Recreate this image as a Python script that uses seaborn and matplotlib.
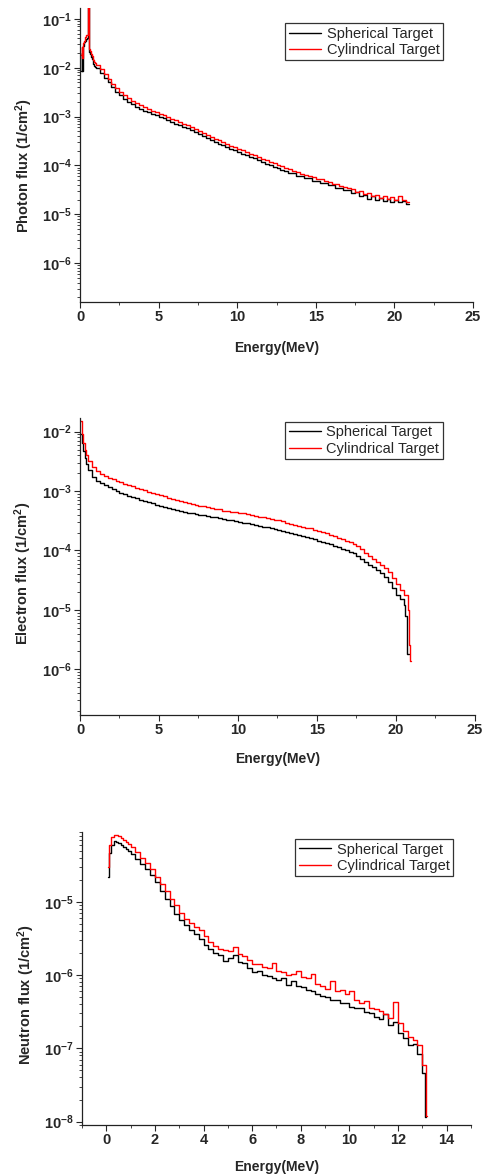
import numpy as np
import pandas as pd
import matplotlib
matplotlib.use("Agg")
import matplotlib.pyplot as plt
from matplotlib.ticker import LogLocator, FuncFormatter, MultipleLocator, NullFormatter
import seaborn as sns

sns.set_style("ticks")
plt.rcParams.update({
    "font.family": ["Liberation Sans", "DejaVu Sans"],
    "mathtext.fontset": "custom",
    "mathtext.rm": "Liberation Sans",
    "mathtext.bf": "Liberation Sans:bold",
    "mathtext.default": "bf",
    "axes.linewidth": 0.9,
    "axes.edgecolor": "#222222",
})

series_names = ["Spherical Target", "Cylindrical Target"]
series_colors = ["black", "red"]

# ---------------- photon spectrum (1/cm^2 per bin) ----------------
photon_fine_e = [0.05, 0.10, 0.15, 0.20, 0.25, 0.30, 0.35, 0.40, 0.45, 0.50,
                 0.55, 0.60, 0.65, 0.70, 0.75, 0.80, 0.85, 0.90, 0.95]
photon_sph_fine = [0.0085, 0.020, 0.0085, 0.028, 0.033, 0.035, 0.036, 0.038, 0.040, 0.25,
                   0.025, 0.021, 0.019, 0.0165, 0.0148, 0.0133, 0.0121, 0.0111, 0.0104]
photon_cyl_fine = [0.018, 0.026, 0.016, 0.032, 0.036, 0.042, 0.045, 0.047, 0.047, 0.30,
                   0.027, 0.024, 0.022, 0.0195, 0.0175, 0.0157, 0.0143, 0.0131, 0.0123]
photon_grid_e = np.round(np.arange(1.0, 20.8, 0.25), 2)  # 1.00 ... 20.75
photon_sph = [9.8e-3, 7.8e-3, 6.3e-3, 5.0e-3, 4.0e-3, 3.2e-3, 2.7e-3, 2.3e-3,
              2.0e-3, 1.78e-3, 1.6e-3, 1.45e-3, 1.33e-3, 1.22e-3, 1.13e-3, 1.07e-3,
              9.9e-4, 9.2e-4, 8.5e-4, 7.85e-4, 7.2e-4, 6.7e-4, 6.2e-4, 5.7e-4,
              5.25e-4, 4.8e-4, 4.4e-4, 4.0e-4, 3.65e-4, 3.3e-4, 3.05e-4, 2.8e-4,
              2.6e-4, 2.4e-4, 2.2e-4, 2.05e-4, 1.9e-4, 1.74e-4, 1.63e-4, 1.49e-4,
              1.39e-4, 1.28e-4, 1.2e-4, 1.09e-4, 1.03e-4, 9.3e-5, 9.0e-5, 8.1e-5,
              7.7e-5, 7.0e-5, 6.9e-5, 6.2e-5, 6.1e-5, 5.5e-5, 5.5e-5, 4.9e-5,
              4.9e-5, 4.4e-5, 4.4e-5, 3.9e-5, 3.9e-5, 3.5e-5, 3.5e-5, 3.1e-5,
              3.1e-5, 2.7e-5, 2.9e-5, 2.4e-5, 2.5e-5, 2.1e-5, 2.4e-5, 2.0e-5,
              2.2e-5, 1.9e-5, 2.1e-5, 1.8e-5, 2.0e-5, 1.75e-5, 1.85e-5, 1.6e-5]
photon_cyl = [1.16e-2, 9.2e-3, 7.4e-3, 5.9e-3, 4.7e-3, 3.8e-3, 3.2e-3, 2.7e-3,
              2.35e-3, 2.1e-3, 1.88e-3, 1.7e-3, 1.56e-3, 1.43e-3, 1.32e-3, 1.24e-3,
              1.15e-3, 1.07e-3, 9.9e-4, 9.1e-4, 8.4e-4, 7.8e-4, 7.2e-4, 6.6e-4,
              6.1e-4, 5.6e-4, 5.1e-4, 4.7e-4, 4.25e-4, 3.85e-4, 3.55e-4, 3.25e-4,
              3.0e-4, 2.8e-4, 2.55e-4, 2.4e-4, 2.2e-4, 2.05e-4, 1.88e-4, 1.75e-4,
              1.6e-4, 1.5e-4, 1.38e-4, 1.28e-4, 1.18e-4, 1.1e-4, 1.03e-4, 9.6e-5,
              8.7e-5, 8.4e-5, 7.7e-5, 7.4e-5, 6.8e-5, 6.5e-5, 6.0e-5, 5.8e-5,
              5.3e-5, 5.2e-5, 4.8e-5, 4.6e-5, 4.2e-5, 4.2e-5, 3.8e-5, 3.6e-5,
              3.4e-5, 3.3e-5, 2.9e-5, 3.0e-5, 2.6e-5, 2.7e-5, 2.4e-5, 2.5e-5,
              2.2e-5, 2.35e-5, 2.1e-5, 2.3e-5, 2.0e-5, 2.4e-5, 1.95e-5, 1.8e-5]
photon_end = 20.9

# ---------------- electron spectrum ----------------
electron_fine_e = [0.0, 0.1, 0.2, 0.3, 0.4, 0.5, 0.75]
electron_sph_fine = [0.0090, 0.0065, 0.0048, 0.0036, 0.0029, 0.0023, 0.00175]
electron_cyl_fine = [0.0150, 0.0090, 0.0065, 0.0050, 0.0040, 0.0032, 0.0025]
electron_grid_e = np.round(np.arange(1.0, 20.6, 0.25), 2)  # 1.00 ... 20.50
electron_sph = [1.50e-3, 1.36e-3, 1.24e-3, 1.15e-3, 1.07e-3, 1.00e-3, 9.4e-4, 8.9e-4,
                8.4e-4, 8.0e-4, 7.6e-4, 7.2e-4, 6.8e-4, 6.5e-4, 6.2e-4, 5.9e-4,
                5.7e-4, 5.4e-4, 5.2e-4, 5.0e-4, 4.8e-4, 4.6e-4, 4.5e-4, 4.3e-4,
                4.2e-4, 4.1e-4, 4.0e-4, 3.9e-4, 3.8e-4, 3.7e-4, 3.6e-4, 3.5e-4,
                3.4e-4, 3.3e-4, 3.2e-4, 3.1e-4, 3.0e-4, 2.9e-4, 2.85e-4, 2.8e-4,
                2.7e-4, 2.6e-4, 2.5e-4, 2.45e-4, 2.4e-4, 2.3e-4, 2.22e-4, 2.15e-4,
                2.05e-4, 1.98e-4, 1.9e-4, 1.8e-4, 1.73e-4, 1.66e-4, 1.6e-4, 1.53e-4,
                1.47e-4, 1.4e-4, 1.34e-4, 1.27e-4, 1.2e-4, 1.13e-4, 1.07e-4, 1.02e-4,
                9.6e-5, 8.9e-5, 8.0e-5, 7.1e-5, 6.4e-5, 5.8e-5, 5.2e-5, 4.7e-5,
                4.2e-5, 3.6e-5, 3.0e-5, 2.3e-5, 1.8e-5, 1.5e-5, 1.2e-5]
electron_cyl = [2.15e-3, 1.95e-3, 1.80e-3, 1.68e-3, 1.57e-3, 1.48e-3, 1.40e-3, 1.32e-3,
                1.26e-3, 1.20e-3, 1.14e-3, 1.08e-3, 1.03e-3, 9.8e-4, 9.3e-4, 8.9e-4,
                8.5e-4, 8.1e-4, 7.7e-4, 7.4e-4, 7.1e-4, 6.8e-4, 6.5e-4, 6.3e-4,
                6.1e-4, 5.9e-4, 5.7e-4, 5.5e-4, 5.3e-4, 5.2e-4, 5.0e-4, 4.9e-4,
                4.7e-4, 4.6e-4, 4.5e-4, 4.4e-4, 4.3e-4, 4.2e-4, 4.1e-4, 4.0e-4,
                3.8e-4, 3.7e-4, 3.6e-4, 3.5e-4, 3.4e-4, 3.3e-4, 3.2e-4, 3.1e-4,
                2.9e-4, 2.8e-4, 2.7e-4, 2.6e-4, 2.5e-4, 2.42e-4, 2.35e-4, 2.25e-4,
                2.15e-4, 2.05e-4, 1.95e-4, 1.85e-4, 1.75e-4, 1.65e-4, 1.55e-4, 1.47e-4,
                1.38e-4, 1.28e-4, 1.17e-4, 1.04e-4, 9.2e-5, 8.2e-5, 7.3e-5, 6.5e-5,
                5.8e-5, 5.1e-5, 4.3e-5, 3.5e-5, 2.7e-5, 2.2e-5, 1.8e-5]
electron_sph_tail_e = [20.6, 20.7]
electron_sph_tail = [8.0e-6, 1.8e-6]
electron_sph_end = 20.8
electron_cyl_tail_e = [20.75, 20.85, 20.92]
electron_cyl_tail = [1.0e-5, 2.6e-6, 1.4e-6]
electron_cyl_end = 20.97

# ---------------- neutron spectrum ----------------
neutron_fine_e = [0.06, 0.1, 0.2, 0.3, 0.4, 0.5, 0.6, 0.7, 0.8, 0.9]
neutron_sph_fine = [2.2e-5, 4.6e-5, 6.0e-5, 6.8e-5, 6.6e-5, 6.3e-5, 6.0e-5, 5.6e-5, 5.3e-5, 5.0e-5]
neutron_cyl_fine = [3.0e-5, 6.0e-5, 7.6e-5, 8.1e-5, 8.2e-5, 7.9e-5, 7.5e-5, 7.0e-5, 6.6e-5, 6.1e-5]
neutron_grid_e = np.round(np.arange(1.0, 12.9, 0.2), 2)  # 1.0 ... 12.8
neutron_sph = [4.5e-5, 3.9e-5, 3.3e-5, 2.8e-5, 2.3e-5, 1.85e-5, 1.4e-5, 1.1e-5,
               8.8e-6, 6.9e-6, 5.6e-6, 4.8e-6, 4.1e-6, 3.6e-6, 3.1e-6, 2.6e-6,
               2.3e-6, 2.0e-6, 1.85e-6, 1.55e-6, 1.7e-6, 1.9e-6, 1.5e-6, 1.45e-6,
               1.25e-6, 1.1e-6, 1.15e-6, 1.0e-6, 9.8e-7, 9.0e-7, 8.6e-7, 9.0e-7,
               7.4e-7, 8.2e-7, 7.0e-7, 6.8e-7, 6.3e-7, 6.1e-7, 5.6e-7, 5.2e-7,
               5.0e-7, 4.6e-7, 4.5e-7, 4.2e-7, 4.1e-7, 3.7e-7, 3.5e-7, 3.6e-7,
               3.1e-7, 3.0e-7, 2.7e-7, 2.5e-7, 2.9e-7, 2.1e-7, 2.3e-7, 1.6e-7,
               1.4e-7, 1.1e-7, 1.15e-7, 8.5e-8]
neutron_cyl = [5.6e-5, 4.8e-5, 4.0e-5, 3.4e-5, 2.8e-5, 2.2e-5, 1.75e-5, 1.4e-5,
               1.1e-5, 9.0e-6, 7.0e-6, 5.9e-6, 5.2e-6, 4.6e-6, 4.1e-6, 3.4e-6,
               2.8e-6, 2.5e-6, 2.3e-6, 2.2e-6, 2.1e-6, 2.4e-6, 1.95e-6, 1.8e-6,
               1.6e-6, 1.4e-6, 1.4e-6, 1.3e-6, 1.25e-6, 1.45e-6, 1.15e-6, 1.1e-6,
               1.0e-6, 1.05e-6, 1.15e-6, 9.5e-7, 9.0e-7, 1.05e-6, 7.5e-7, 7.2e-7,
               6.5e-7, 8.2e-7, 6.0e-7, 6.2e-7, 5.5e-7, 6.0e-7, 4.6e-7, 4.2e-7,
               4.4e-7, 3.6e-7, 3.4e-7, 3.2e-7, 2.9e-7, 2.6e-7, 4.3e-7, 2.2e-7,
               1.7e-7, 1.45e-7, 1.3e-7, 1.1e-7]
neutron_sph_tail_e = [13.0, 13.1]
neutron_sph_tail = [4.6e-8, 1.15e-8]
neutron_sph_end = 13.15
neutron_cyl_tail_e = [13.0, 13.15]
neutron_cyl_tail = [6.0e-8, 1.2e-8]
neutron_cyl_end = 13.2


def hist_frame(edges, values, end, name):
    # step histogram: left bin edges + closing edge
    x = list(edges) + [end]
    y = list(values) + [values[-1]]
    return pd.DataFrame({"Energy": x, "Flux": y, "Target": name})


def sci_label(v, pos):
    return r"$\mathbf{10^{%d}}$" % int(round(np.log10(v)))


def draw_panel(ax, df, ylim, xlim, xmajor, xminor, ylabel, leg_anchor, xlab_y, ylab_xy):
    sns.lineplot(data=df, x="Energy", y="Flux", hue="Target", hue_order=series_names,
                 palette=series_colors, drawstyle="steps-post", linewidth=1.0,
                 estimator=None, errorbar=None, ax=ax)
    ax.set_yscale("log")
    ax.set_ylim(*ylim)
    ax.set_xlim(*xlim)
    ax.xaxis.set_major_locator(MultipleLocator(xmajor))
    ax.xaxis.set_minor_locator(MultipleLocator(xminor))
    ax.yaxis.set_major_locator(LogLocator(base=10, numticks=20))
    ax.yaxis.set_minor_locator(LogLocator(base=10, subs=np.arange(2, 10), numticks=20))
    ax.yaxis.set_major_formatter(FuncFormatter(sci_label))
    ax.yaxis.set_minor_formatter(NullFormatter())
    ax.tick_params(which="major", direction="out", length=4, width=0.8, labelsize=10.5, pad=2)
    ax.tick_params(which="minor", direction="out", length=2, width=0.6)
    for lab in ax.get_xticklabels():
        lab.set_fontweight("bold")
    ax.set_xlabel("Energy(MeV)", fontsize=10, fontweight="bold")
    ax.set_ylabel(ylabel, fontsize=10.5, fontweight="bold")
    ax.xaxis.set_label_coords(0.5, xlab_y)
    ax.yaxis.set_label_coords(*ylab_xy)
    sns.despine(ax=ax)
    handles, labels = ax.get_legend_handles_labels()
    leg = ax.legend(handles, labels, loc="upper right", bbox_to_anchor=leg_anchor,
                    fontsize=10.5, frameon=True, fancybox=False, edgecolor="#333333",
                    framealpha=1, handlelength=2.2, handletextpad=0.4,
                    labelspacing=0.15, borderpad=0.25, borderaxespad=0)
    leg.get_frame().set_linewidth(0.9)


photon_df = pd.concat([
    hist_frame(photon_fine_e + list(photon_grid_e), photon_sph_fine + photon_sph, photon_end, series_names[0]),
    hist_frame(photon_fine_e + list(photon_grid_e), photon_cyl_fine + photon_cyl, photon_end, series_names[1]),
])
electron_df = pd.concat([
    hist_frame(electron_fine_e + list(electron_grid_e) + electron_sph_tail_e,
               electron_sph_fine + electron_sph + electron_sph_tail, electron_sph_end, series_names[0]),
    hist_frame(electron_fine_e + list(electron_grid_e) + electron_cyl_tail_e,
               electron_cyl_fine + electron_cyl + electron_cyl_tail, electron_cyl_end, series_names[1]),
])
neutron_df = pd.concat([
    hist_frame(neutron_fine_e + list(neutron_grid_e) + neutron_sph_tail_e,
               neutron_sph_fine + neutron_sph + neutron_sph_tail, neutron_sph_end, series_names[0]),
    hist_frame(neutron_fine_e + list(neutron_grid_e) + neutron_cyl_tail_e,
               neutron_cyl_fine + neutron_cyl + neutron_cyl_tail, neutron_cyl_end, series_names[1]),
])

fig = plt.figure(figsize=(4.84, 11.75), dpi=100)
ax1 = fig.add_axes([0.1653, 0.743, 0.812, 0.2502])
ax2 = fig.add_axes([0.1653, 0.3915, 0.816, 0.2528])
ax3 = fig.add_axes([0.1694, 0.0426, 0.8037, 0.2494])

draw_panel(ax1, photon_df, (1.6e-7, 0.167), (0, 25), 5, 2.5,
           "Photon flux (1/cm$^\\mathbf{2}$)", (0.924, 0.949), -0.133, (-0.115, 0.466))
draw_panel(ax2, electron_df, (1.7e-7, 0.017), (0, 25), 5, 2.5,
           "Electron flux (1/cm$^\\mathbf{2}$)", (0.919, 0.987), -0.125, (-0.116, 0.478))
draw_panel(ax3, neutron_df, (9e-9, 9e-5), (-1, 15), 2, 1,
           "Neutron flux (1/cm$^\\mathbf{2}$)", (0.954, 0.976), -0.119, (-0.116, 0.444))

fig.savefig("out.png", dpi=100)
